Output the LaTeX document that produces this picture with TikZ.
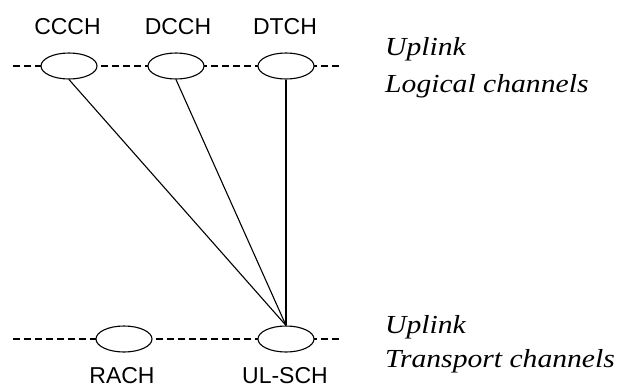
\documentclass[tikz,border=0pt]{standalone}
\usepackage{fontspec}
\setmainfont{Liberation Serif}
\newfontfamily\labelfont{Liberation Sans}
\newfontfamily\captionfont[FakeStretch=1.14]{Liberation Serif}
\usetikzlibrary{shapes.geometric}
\begin{document}
\begin{tikzpicture}[x=1pt,y=-1pt,
  chan/.style={ellipse,draw,line width=1.1pt,minimum width=56pt,minimum height=26pt,inner sep=0pt,fill=white},
  level/.style={dash pattern=on 7pt off 4pt,line width=1.1pt},
  link/.style={line width=1.1pt},
  chname/.style={font=\labelfont\fontsize{23}{23}\selectfont,inner sep=0pt,anchor=base},
  side/.style={font=\captionfont\itshape\fontsize{26}{30}\selectfont,anchor=base west,inner sep=0pt}]
\useasboundingbox (0,0) rectangle (626,389);
% logical channel level
\coordinate (tl) at (13,66);
\coordinate (tr) at (342,66);
\draw[level] (tl) -- (tr);
\node[chan] (ccch) at (69,66) {};
\node[chan] (dcch) at (176,66) {};
\node[chan] (dtch) at (286,66) {};
\node[chname] (lccch) at (67.5,34) {CCCH};
\node[chname] (ldcch) at (178,34) {DCCH};
\node[chname] (ldtch) at (285,34) {DTCH};
% transport channel level
\coordinate (bl) at (13,339);
\coordinate (br) at (342,339);
\draw[level] (bl) -- (br);
\node[chan] (rach) at (124,339) {};
\node[chan] (ulsch) at (286,339) {};
\node[chname] (lrach) at (122,383) {RACH};
\node[chname] (lulsch) at (285,383) {UL-SCH};
% mapping
\draw[link] (ccch.south) -- (ulsch.north);
\draw[link] (dcch.south) -- (ulsch.north);
\draw[link] (dtch.south) -- (ulsch.north);
% level captions
\node[side] (cap1a) at (385,55) {Uplink};
\node[side] (cap1b) at (385,92) {Logical channels};
\node[side] (cap2a) at (385,333) {Uplink};
\node[side] (cap2b) at (385,367) {Transport channels};
\end{tikzpicture}
\end{document}
